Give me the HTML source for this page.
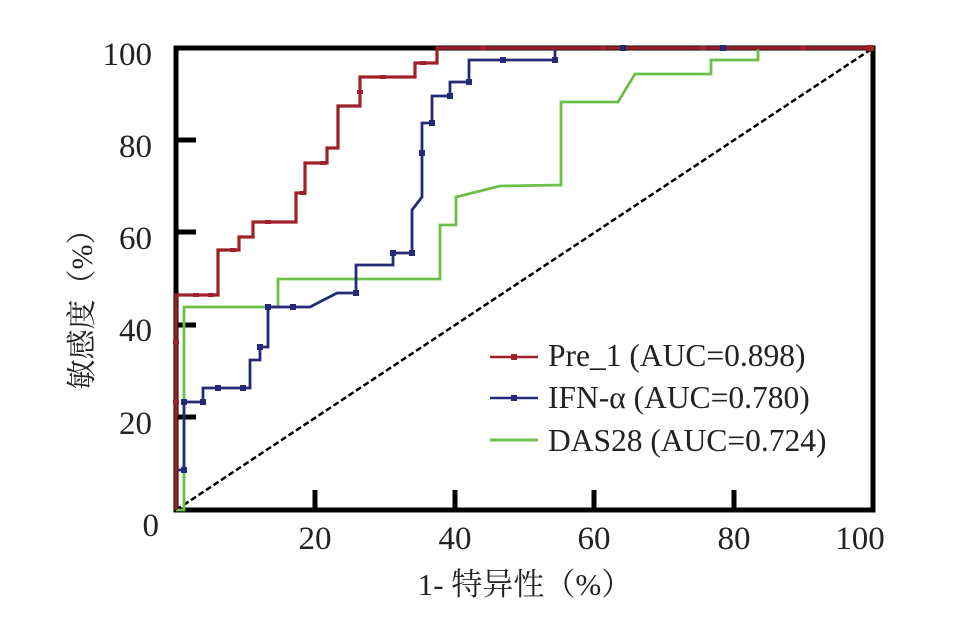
<!DOCTYPE html>
<html><head><meta charset="utf-8"><style>body{margin:0;background:#fff}svg{display:block}</style></head>
<body>
<svg width="955" height="622" viewBox="0 0 955 622" xmlns="http://www.w3.org/2000/svg" font-family="Liberation Serif, 'Noto Serif CJK SC', serif">
<rect width="955" height="622" fill="#fff"/>
<rect x="176" y="48" width="697" height="462" fill="none" stroke="#000" stroke-width="5"/>
<g stroke="#000" stroke-width="5">
<line x1="176" y1="140" x2="196" y2="140"/><line x1="176" y1="232" x2="196" y2="232"/><line x1="176" y1="325" x2="196" y2="325"/><line x1="176" y1="417" x2="196" y2="417"/>
<line x1="315" y1="510" x2="315" y2="490"/><line x1="455" y1="510" x2="455" y2="490"/><line x1="594" y1="510" x2="594" y2="490"/><line x1="734" y1="510" x2="734" y2="490"/>
</g>
<line x1="176" y1="510" x2="873" y2="48" stroke="#000" stroke-width="2.5" stroke-dasharray="6,3"/>
<polyline fill="none" stroke="#6cc04a" stroke-width="2.8" points="176,510 184,510 184,307 278,307 278,279 440,279 440,225 456,225 456,197 500,186 561,185 561,102 618,102 635,74 711,74 711,60 758,60 758,48 873,48"/>
<polyline fill="none" stroke="#242a78" stroke-width="2.8" points="176,510 176,470 184,470 184,402 203,402 203,388 250,388 250,360 260,360 260,347 268,347 268,307 310,307 337,293 356,293 356,265 393,265 393,253 412,253 412,210 422,197 422,123 432,123 432,96 450,96 450,82 469,82 469,60 555,60 555,48 873,48"/>
<polyline fill="none" stroke="#a0202a" stroke-width="3.2" points="176,510 176,295 218,295 218,250 239,250 239,237 253,237 253,222 296,222 296,193 305,193 305,163 327,163 327,148 338,148 338,106 360,106 360,77 415,77 415,63 437,63 437,48 873,48"/>
<g fill="#242a78">
<rect x="181" y="467" width="6" height="6"/><rect x="181" y="399" width="6" height="6"/><rect x="200" y="399" width="6" height="6"/><rect x="215" y="385" width="6" height="6"/><rect x="240" y="385" width="6" height="6"/><rect x="257" y="344" width="6" height="6"/><rect x="265" y="304" width="6" height="6"/><rect x="290" y="304" width="6" height="6"/><rect x="353" y="290" width="6" height="6"/><rect x="390" y="250" width="6" height="6"/><rect x="409" y="250" width="6" height="6"/><rect x="419" y="150" width="6" height="6"/><rect x="429" y="120" width="6" height="6"/><rect x="447" y="93" width="6" height="6"/><rect x="466" y="79" width="6" height="6"/><rect x="500" y="57" width="6" height="6"/><rect x="552" y="57" width="6" height="6"/><rect x="620" y="45" width="6" height="6"/><rect x="720" y="45" width="6" height="6"/>
</g>
<g fill="#a0202a">
<rect x="173" y="400" width="6" height="4"/><rect x="173" y="340" width="6" height="4"/><rect x="193" y="293" width="6" height="4"/><rect x="208" y="293" width="6" height="4"/><rect x="230" y="248" width="6" height="4"/><rect x="265" y="220" width="6" height="4"/><rect x="300" y="191" width="6" height="4"/><rect x="320" y="161" width="6" height="4"/><rect x="357" y="90" width="6" height="4"/><rect x="380" y="75" width="6" height="4"/><rect x="420" y="61" width="6" height="4"/><rect x="480" y="46" width="6" height="4"/><rect x="600" y="46" width="6" height="4"/><rect x="700" y="46" width="6" height="4"/><rect x="800" y="46" width="6" height="4"/><rect x="866" y="45" width="8" height="6"/>
</g>
<g font-size="33" fill="#222" text-anchor="end">
<text x="152" y="65">100</text><text x="152" y="157">80</text><text x="152" y="249">60</text><text x="152" y="341">40</text><text x="152" y="434">20</text><text x="159" y="536">0</text>
</g>
<g font-size="33" fill="#222" text-anchor="middle">
<text x="315" y="549">20</text><text x="455" y="549">40</text><text x="594" y="549">60</text><text x="734" y="549">80</text><text x="860" y="549">100</text>
</g>
<text x="525" y="595" font-size="31" fill="#222" text-anchor="middle">1- 特异性（%）</text>
<text transform="translate(92,302) rotate(-90)" font-size="30" fill="#222" text-anchor="middle">敏感度（%）</text>
<line x1="490" y1="357" x2="538" y2="357" stroke="#a0202a" stroke-width="2.5"/><rect x="511" y="354" width="6" height="6" fill="#a0202a"/>
<line x1="490" y1="398" x2="538" y2="398" stroke="#242a78" stroke-width="2.5"/><rect x="511" y="395" width="6" height="6" fill="#242a78"/>
<line x1="490" y1="440" x2="538" y2="440" stroke="#6cc04a" stroke-width="3"/>
<g font-size="31.5" fill="#222">
<text x="548" y="366">Pre_1 (AUC=0.898)</text>
<text x="548" y="408">IFN-α (AUC=0.780)</text>
<text x="548" y="451">DAS28 (AUC=0.724)</text>
</g>
</svg>
</body></html>
